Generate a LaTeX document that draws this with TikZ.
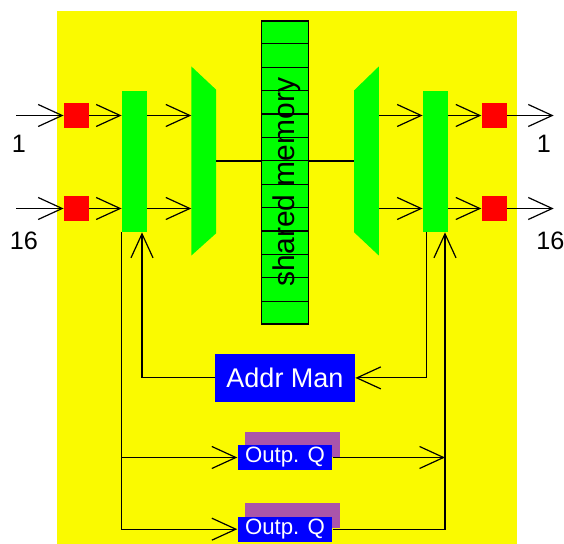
\documentclass[tikz,border=0pt]{standalone}
\usepackage{fontspec}
\setmainfont{Liberation Sans}
\usetikzlibrary{arrows.meta, positioning, calc}
\definecolor{bgyellow}{RGB}{250,250,0}
\definecolor{qpurple}{RGB}{170,85,170}

\begin{document}
\begin{tikzpicture}[x=0.5pt, y=-0.5pt,
    port/.style={fill=red, minimum size=12.5pt, inner sep=0pt},
    bar/.style={fill=green, minimum width=12.5pt, minimum height=70.5pt, inner sep=0pt},
    mux/.style={minimum width=12pt, minimum height=94.2pt, inner sep=0pt},
    mem/.style={draw, fill=green, line width=0.6pt, minimum width=23.3pt,
                minimum height=151.5pt, inner sep=0pt},
    mgr/.style={fill=blue, text=white, inner sep=0pt, align=center},
    queue/.style={mgr, minimum width=47.3pt, minimum height=12.5pt,
                  font=\fontsize{11.1}{13}\selectfont},
    shadowq/.style={fill=qpurple, minimum width=47.3pt, minimum height=12.5pt, inner sep=0pt},
    lbl/.style={font=\fontsize{12.6}{14}\selectfont},
    wire/.style={line width=0.6pt},
    >={Straight Barb[length=12pt, width=11pt]}
  ]
  \useasboundingbox (0,0) rectangle (564,544);
  \fill[bgyellow] (57,11) rectangle (517,544);

  % Ports
  \node[port] (in1)   at (76.5,115.5)  {};
  \node[port] (in16)  at (76.5,208.5)  {};
  \node[port] (out1)  at (494.2,115.5) {};
  \node[port] (out16) at (494.2,208.5) {};

  % Crossbars and muxes
  \node[bar] (lbar) at (134.5,161.5) {};
  \node[bar] (rbar) at (435.5,161.5) {};
  \node[mux] (lmux) at (203.7,161) {};
  \node[mux] (rmux) at (366.5,161) {};
  \fill[green] (lmux.north west) -- ($(lmux.north east)+(0,23.3)$)
    -- ($(lmux.south east)+(0,-22.3)$) -- (lmux.south west) -- cycle;
  \fill[green] (rmux.north east) -- ($(rmux.north west)+(0,24)$)
    -- ($(rmux.south west)+(0,-23.3)$) -- (rmux.south east) -- cycle;

  % Shared memory
  \draw[wire] (lmux.east) -- (rmux.west);
  \node[mem] (mem) at (285,172.5) {};
  \foreach \i in {1,...,12}
    \draw[wire] ($(mem.north west)!\i/13!(mem.south west)$) -- ($(mem.north east)!\i/13!(mem.south east)$);
  \node[rotate=90, font=\fontsize{15}{18}\selectfont] (memlbl) at ($(mem)+(1.5,9.5)$) {shared memory};

  % Address manager and output queues
  \node[mgr, minimum width=70pt, minimum height=23.9pt,
        font=\fontsize{13.5}{16}\selectfont] (addr) at (285,377.9) {Addr Man};
  \coordinate (q1) at (285,457.5);
  \coordinate (q2) at (285,529.2);
  \node[shadowq] (oq1s) at ($(q1)+(7.5,-13.3)$) {};
  \node[shadowq] (oq2s) at ($(q2)+(7.5,-13.3)$) {};
  \node[queue] (oq1) at (q1) {Outp. Q};
  \node[queue] (oq2) at (q2) {Outp. Q};

  % Inputs
  \draw[wire,->] ($(in1.west)+(-47.3,0)$) -- (in1.west);
  \draw[wire,->] ($(in16.west)+(-47.3,0)$) -- (in16.west);
  \draw[wire,->] (in1.east) -- (lbar.west |- in1);
  \draw[wire,->] (in16.east) -- (lbar.west |- in16);
  \draw[wire,->] (lbar.east |- in1) -- (lmux.west |- in1);
  \draw[wire,->] (lbar.east |- in16) -- (lmux.west |- in16);

  % Outputs
  \draw[wire,->] (rmux.east |- out1) -- (rbar.west |- out1);
  \draw[wire,->] (rmux.east |- out16) -- (rbar.west |- out16);
  \draw[wire,->] (rbar.east |- out1) -- (out1.west);
  \draw[wire,->] (rbar.east |- out16) -- (out16.west);
  \draw[wire,->] (out1.east) -- ++(46.6,0);
  \draw[wire,->] (out16.east) -- ++(46.6,0);

  % Port numbers
  \node[lbl] (lnum1)  at (19,144)    {1};
  \node[lbl] (lnum16) at (24,241)    {16};
  \node[lbl] (rnum1)  at (544,144)   {1};
  \node[lbl] (rnum16) at (550.5,241) {16};

  % Control paths
  \draw[wire,->] (addr.west) -| ($(lbar.south)+(7.5,0)$);
  \draw[wire,->] ($(rbar.south west)+(3.7,0)$) |- (addr.east);
  \draw[wire,->] (lbar.south west) |- (oq2.west);
  \draw[wire,->] (lbar.south west |- oq1.west) -- (oq1.west);
  \coordinate (qret) at ($(rbar.south east)+(-3.4,0)$);
  \draw[wire,->] (oq1.east) -- (oq1.east -| qret);
  \draw[wire,->] (oq2.east) -| (qret);
\end{tikzpicture}
\end{document}
